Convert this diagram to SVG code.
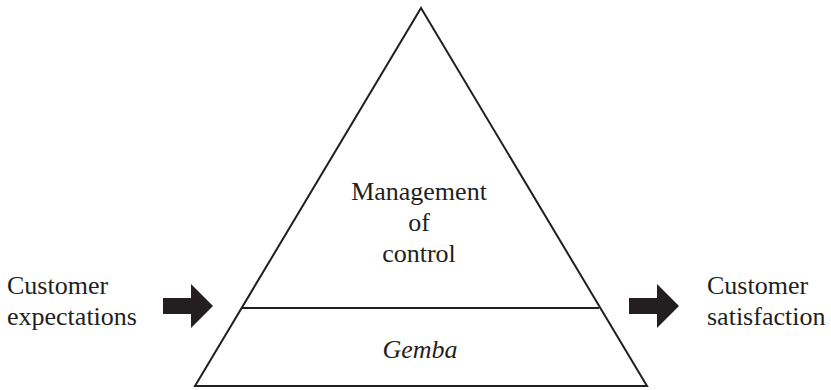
<svg xmlns="http://www.w3.org/2000/svg" width="831" height="390" viewBox="0 0 831 390">
<style>
.t{font-family:"Liberation Serif","Times New Roman",serif;font-size:26px;fill:#231f20}
.c{text-anchor:middle}
.ln{fill:none;stroke:#231f20;stroke-width:2;stroke-linejoin:miter}
.ar{fill:#231f20}
</style>
<rect width="831" height="390" fill="#fff"/>
<g id="pyramid">
<polygon class="ln" points="421,8 647,386 195,386"/>
</g>
<g id="management">
<text class="t c" x="419" y="200">Management</text>
<text class="t c" x="419" y="231">of</text>
<text class="t c" x="419" y="262">control</text>
</g>
<g id="gemba">
<line class="ln" x1="242" y1="308" x2="599" y2="308"/>
<text class="t c" x="420" y="358" font-style="italic">Gemba</text>
</g>
<g id="expectations">
<text class="t" x="7" y="294">Customer</text>
<text class="t" x="7" y="325">expectations</text>
</g>
<g id="satisfaction">
<text class="t" x="707" y="294">Customer</text>
<text class="t" x="707" y="325">satisfaction</text>
</g>
<g id="connectors">
<polygon class="ar" points="163,298 191,298 191,284 213,306 191,328 191,314 163,314"/>
<polygon class="ar" points="629,298 657,298 657,284 679,306 657,328 657,314 629,314"/>
</g>
</svg>
